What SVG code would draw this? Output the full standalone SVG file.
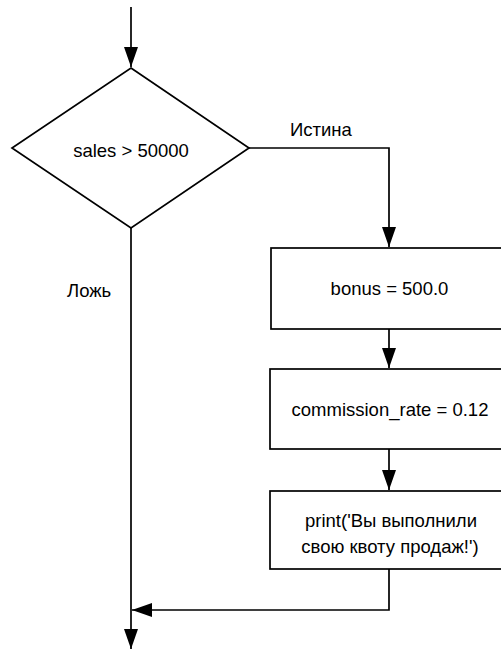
<svg xmlns="http://www.w3.org/2000/svg" width="501" height="650" viewBox="0 0 501 650">
<style>
.shape{fill:#fff;stroke:#000;stroke-width:1.7}
.line{fill:none;stroke:#000;stroke-width:1.7}
text{font-family:"Liberation Sans",Arial,sans-serif;font-size:18.5px;fill:#000}
.c{text-anchor:middle}
</style>
<defs>
<marker id="arr" viewBox="0 0 20 14" refX="20" refY="7" markerWidth="20" markerHeight="14" markerUnits="userSpaceOnUse" orient="auto">
<path d="M0,0 L20,7 L0,14 Z" fill="#000"/>
</marker>
</defs>
<g id="connectors">
<path class="line" d="M131,7 V67" marker-end="url(#arr)"/>
<path class="line" d="M249,148 H389 V247" marker-end="url(#arr)"/>
<path class="line" d="M389,329 V368" marker-end="url(#arr)"/>
<path class="line" d="M389,449 V490" marker-end="url(#arr)"/>
<path class="line" d="M389,569 V610 H132" marker-end="url(#arr)"/>
<path class="line" d="M131,228 V649" marker-end="url(#arr)"/>
<text x="290" y="136">Истина</text>
<text x="67" y="297">Ложь</text>
</g>
<g id="decision">
<polygon class="shape" points="131,68 249,148 131,228 12,148"/>
<text class="c" x="131" y="157">sales &gt; 50000</text>
</g>
<g id="bonus">
<rect class="shape" x="271" y="248" width="240" height="81"/>
<text class="c" x="389.5" y="295">bonus = 500.0</text>
</g>
<g id="commission">
<rect class="shape" x="270" y="369" width="240" height="80"/>
<text class="c" x="390" y="416">commission_rate = 0.12</text>
</g>
<g id="print">
<rect class="shape" x="270" y="491" width="240" height="78"/>
<text class="c" x="391" y="527">print('Вы выполнили</text>
<text class="c" x="390" y="553">свою квоту продаж!')</text>
</g>
</svg>
